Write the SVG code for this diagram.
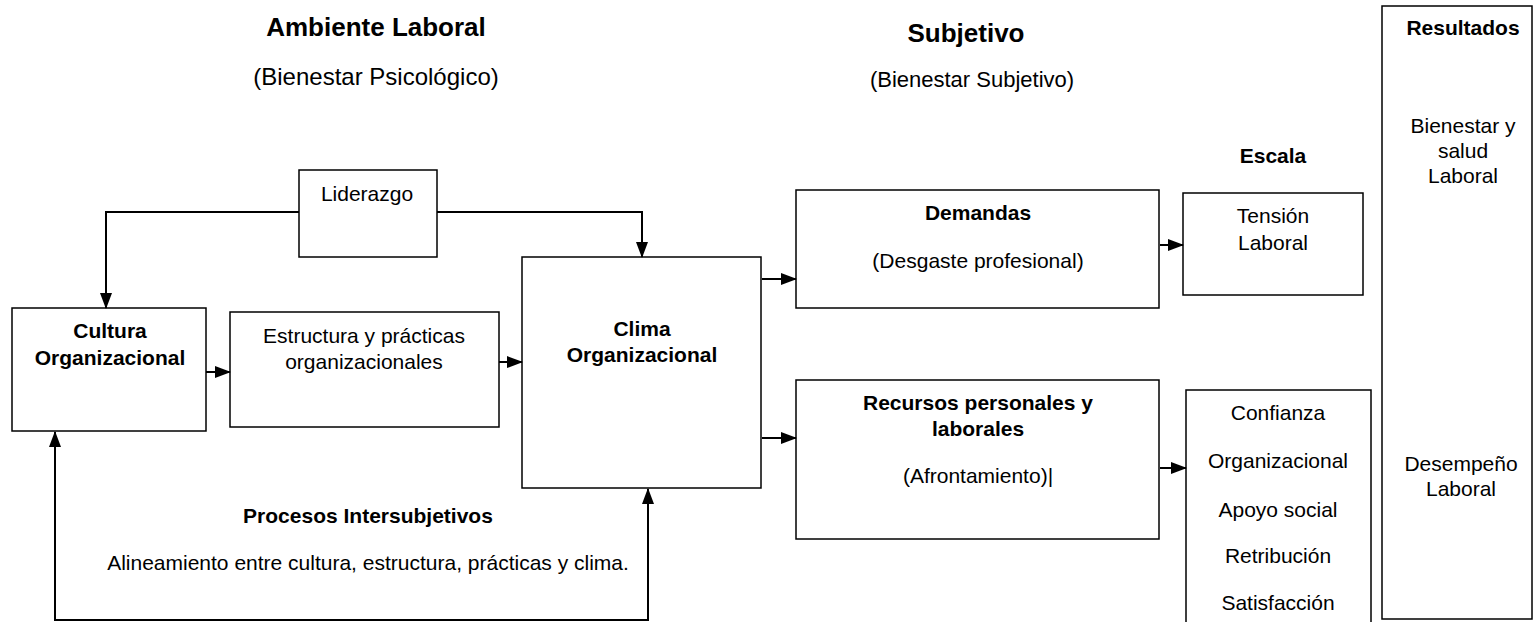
<svg xmlns="http://www.w3.org/2000/svg" width="1534" height="622" viewBox="0 0 1534 622">
<style>
text{font-family:"Liberation Sans",Arial,sans-serif;fill:#000;text-anchor:middle}
.b{font-weight:bold}
.t{font-size:21px}
.box{fill:#fff;stroke:#000;stroke-width:1.5}
.con{fill:none;stroke:#000;stroke-width:2}
</style>
<defs>
<marker id="ah" viewBox="0 0 16 12" refX="15" refY="6" markerWidth="16" markerHeight="12" markerUnits="userSpaceOnUse" orient="auto-start-reverse">
<path d="M0,0 L16,6 L0,12 z" fill="#000"/>
</marker>
</defs>
<rect width="1534" height="622" fill="#fff"/>

<g id="titles">
<text class="b" x="376" y="36" font-size="26">Ambiente Laboral</text>
<text x="376" y="85" font-size="24">(Bienestar Psicológico)</text>
<text class="b" x="966" y="42" font-size="26">Subjetivo</text>
<text x="972" y="87" font-size="22">(Bienestar Subjetivo)</text>
<text class="b t" x="1273" y="163">Escala</text>
</g>

<g id="liderazgo">
<rect class="box" x="299" y="170" width="138" height="87"/>
<text class="t" x="367" y="201">Liderazgo</text>
</g>

<g id="cultura">
<rect class="box" x="12" y="308" width="194" height="123"/>
<text class="b t" x="110" y="338">Cultura</text>
<text class="b t" x="110" y="365">Organizacional</text>
</g>

<g id="estructura">
<rect class="box" x="230" y="312" width="269" height="115"/>
<text class="t" x="364" y="343">Estructura y prácticas</text>
<text class="t" x="364" y="369">organizacionales</text>
</g>

<g id="clima">
<rect class="box" x="522" y="257" width="239" height="231"/>
<text class="b t" x="642" y="336">Clima</text>
<text class="b t" x="642" y="362">Organizacional</text>
</g>

<g id="demandas">
<rect class="box" x="796" y="190" width="363" height="118"/>
<text class="b t" x="978" y="220">Demandas</text>
<text class="t" x="978" y="268">(Desgaste profesional)</text>
</g>

<g id="recursos">
<rect class="box" x="796" y="380" width="363" height="159"/>
<text class="b t" x="978" y="410">Recursos personales y</text>
<text class="b t" x="978" y="436">laborales</text>
<text class="t" x="978" y="483">(Afrontamiento)|</text>
</g>

<g id="tension">
<rect class="box" x="1183" y="193" width="180" height="102"/>
<text class="t" x="1273" y="223">Tensión</text>
<text class="t" x="1273" y="250">Laboral</text>
</g>

<g id="confianza">
<rect class="box" x="1186" y="390" width="185" height="260"/>
<text class="t" x="1278" y="420">Confianza</text>
<text class="t" x="1278" y="468">Organizacional</text>
<text class="t" x="1278" y="517">Apoyo social</text>
<text class="t" x="1278" y="563">Retribución</text>
<text class="t" x="1278" y="610">Satisfacción</text>
</g>

<g id="resultados">
<rect class="box" x="1382" y="6" width="150" height="613"/>
<text class="b t" x="1463" y="35">Resultados</text>
<text class="t" x="1463" y="133">Bienestar y</text>
<text class="t" x="1463" y="158">salud</text>
<text class="t" x="1463" y="183">Laboral</text>
<text class="t" x="1461" y="471">Desempeño</text>
<text class="t" x="1461" y="496">Laboral</text>
</g>

<g id="procesos">
<text class="b t" x="368" y="523">Procesos Intersubjetivos</text>
<text class="t" x="368" y="570">Alineamiento entre cultura, estructura, prácticas y clima.</text>
</g>

<g id="connectors">
<path class="con" d="M299,212 H106 V308" marker-end="url(#ah)"/>
<path class="con" d="M437,212 H642 V257" marker-end="url(#ah)"/>
<path class="con" d="M206,372 H230" marker-end="url(#ah)"/>
<path class="con" d="M499,362 H522" marker-end="url(#ah)"/>
<path class="con" d="M762,279 H796" marker-end="url(#ah)"/>
<path class="con" d="M762,438 H796" marker-end="url(#ah)"/>
<path class="con" d="M1160,245 H1183" marker-end="url(#ah)"/>
<path class="con" d="M1160,468 H1186" marker-end="url(#ah)"/>
<path class="con" d="M55,432 V620 H648 V489" marker-start="url(#ah)" marker-end="url(#ah)"/>
</g>
</svg>
